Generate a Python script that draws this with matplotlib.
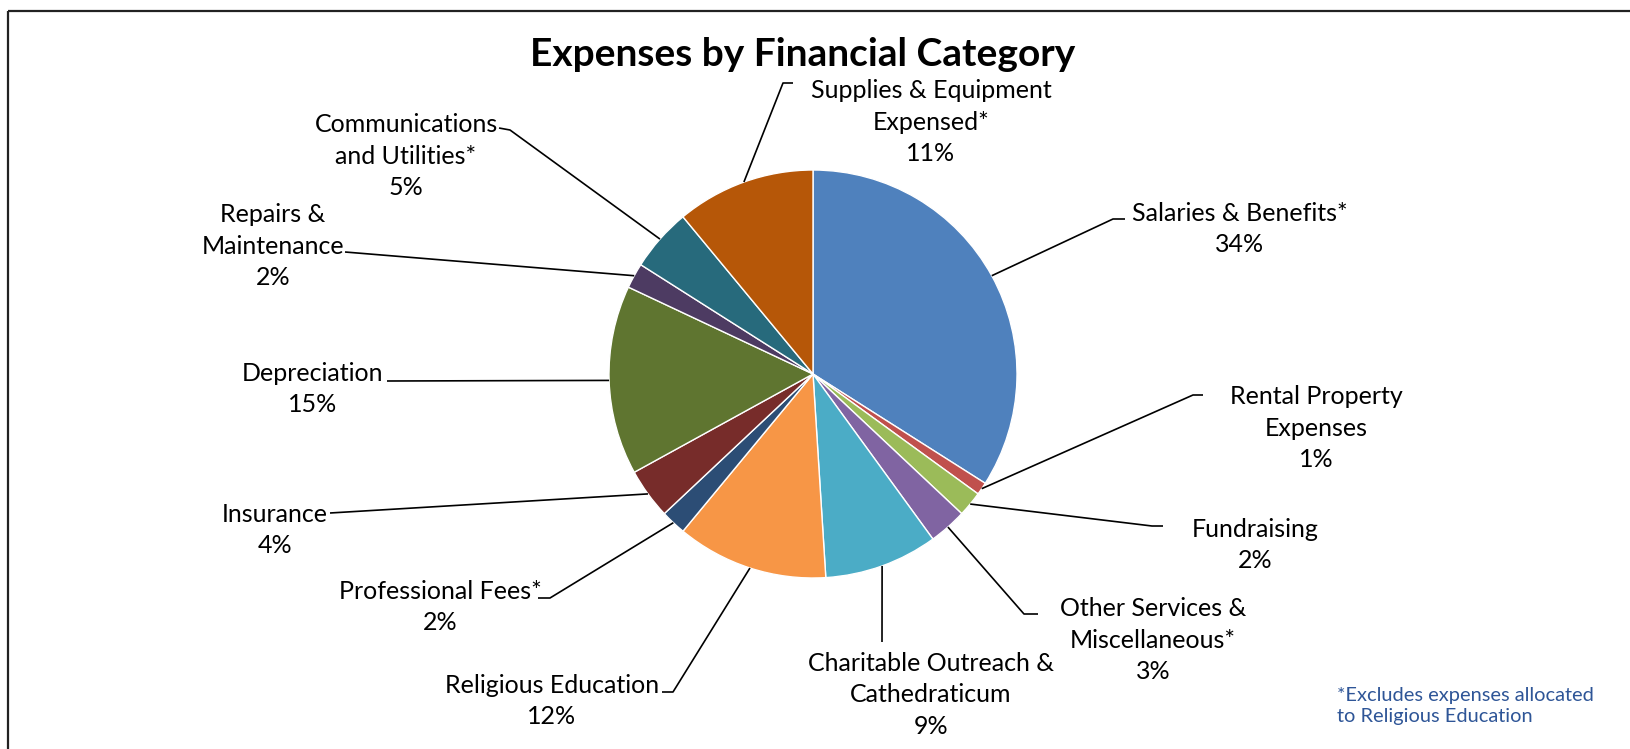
import numpy as np
import matplotlib.pyplot as plt
from matplotlib.patches import Rectangle

plt.rcParams['font.family'] = ['Lato', 'DejaVu Sans']

categories = ['Salaries & Benefits*', 'Rental Property\nExpenses', 'Fundraising',
              'Other Services &\nMiscellaneous*', 'Charitable Outreach &\nCathedraticum',
              'Religious Education', 'Professional Fees*', 'Insurance', 'Depreciation',
              'Repairs &\nMaintenance', 'Communications\nand Utilities*',
              'Supplies & Equipment\nExpensed*']
values = [34, 1, 2, 3, 9, 12, 2, 4, 15, 2, 5, 11]
colors = ['#4F81BD', '#C0504D', '#9BBB59', '#8064A2', '#4BACC6', '#F79646',
          '#2C4D75', '#772C2A', '#5F7530', '#4D3B62', '#276A7C', '#B65708']

# label layout in pixel coords: text centre, then leader points after the pie edge
label_pos = [(1240, 229), (1316, 428), (1255, 545), (1153, 640), (931, 695), (552, 701),
             (440, 607), (275, 530), (313, 389), (273, 246), (406, 156), (931, 122)]
leader_pts = [
    [(1113, 219), (1125, 219)],
    [(1193, 395), (1203, 395)],
    [(1152, 526), (1163, 526)],
    [(1024, 614), (1038, 614)],
    [(882, 642)],
    [(673, 692), (662, 692)],
    [(550, 598), (538, 598)],
    [(330, 513)],
    [(387, 381)],
    [(345, 252)],
    [(510, 130), (499, 128)],
    [(783, 83), (793, 83)],
]

W, H = 1630, 749
CX, CY, R = 813, 374, 204


def main():
    fig = plt.figure(figsize=(W / 100, H / 100), dpi=100)
    ax = fig.add_axes([0, 0, 1, 1])
    # y axis is inverted, so counterclockwise in data is clockwise on screen
    wedges, _ = ax.pie(values, colors=colors, startangle=-90, counterclock=True,
                       radius=R, center=(CX, CY),
                       wedgeprops=dict(edgecolor='white', linewidth=1.0))
    ax.set_xlim(0, W)
    ax.set_ylim(H, 0)
    ax.set_aspect('equal')
    ax.axis('off')

    for w, lab, val, pos, pts in zip(wedges, categories, values, label_pos, leader_pts):
        mid = np.deg2rad((w.theta1 + w.theta2) / 2)
        x0 = CX + R * np.cos(mid)
        y0 = CY + R * np.sin(mid)
        xs = [x0] + [p[0] for p in pts]
        ys = [y0] + [p[1] for p in pts]
        ax.plot(xs, ys, color='black', linewidth=1.2, solid_capstyle='butt')
        ax.text(pos[0], pos[1], f'{lab}\n{val}%', ha='center', va='center',
                fontsize=18, linespacing=1.43, color='black')

    ax.text(803, 54, 'Expenses by Financial Category', ha='center', va='center',
            fontsize=28, fontweight='bold', color='black')
    ax.text(1337, 706, '*Excludes expenses allocated\nto Religious Education',
            ha='left', va='center', fontsize=14.4, linespacing=1.3, color='#2E5597')

    ax.add_patch(Rectangle((7.5, 11), W + 20, H + 20, fill=False,
                           edgecolor='#222222', linewidth=1.6, clip_on=False))

    fig.savefig('out.png', dpi=100)


if __name__ == '__main__':
    main()
